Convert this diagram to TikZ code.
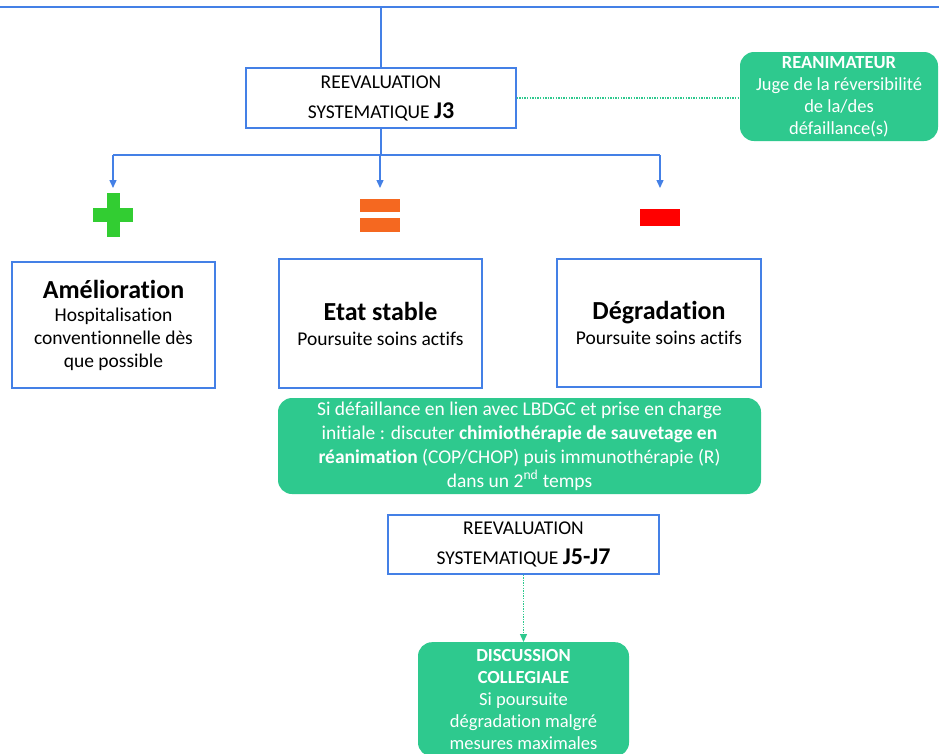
\documentclass[tikz,border=0pt]{standalone}
\usepackage{fontspec}
\setmainfont[Ligatures=NoCommon]{Carlito}
\usetikzlibrary{arrows.meta}
\definecolor{lineblue}{RGB}{68,128,230}
\definecolor{boxgreen}{RGB}{46,201,142}
\definecolor{plusgreen}{RGB}{50,205,50}
\definecolor{eqorange}{RGB}{245,104,32}
\definecolor{minusred}{RGB}{255,0,0}

\begin{document}
\begin{tikzpicture}[x=1pt, y=-1pt, >={Triangle[length=8pt,width=7pt]},
  evalbox/.style={draw=lineblue, line width=1.3pt, fill=white, align=center, inner sep=0pt, font=\fontsize{19.5}{30}\selectfont},
  casebox/.style={draw=lineblue, line width=1.3pt, align=center, inner sep=0pt, font=\fontsize{19.5}{23}\selectfont},
  greenbox/.style={fill=boxgreen, rounded corners=14pt, text=white, align=center, inner sep=0pt},
  link/.style={lineblue, line width=1.4pt},
  dots/.style={boxgreen, line width=1.3pt, dash pattern=on 1.3pt off 1.3pt}]
  \path[use as bounding box, fill=white] (0,0) rectangle (939,753);

  % Reevaluation J3 and reanimateur
  \coordinate (topL) at (0,7);
  \coordinate (topR) at (939,7);
  \node[evalbox, minimum width=270pt, minimum height=60pt] (j3) at (381,98)
    {REEVALUATION\\SYSTEMATIQUE {\bfseries\fontsize{24}{24}\selectfont J3}};
  \node[greenbox, minimum width=198pt, minimum height=89pt, font=\fontsize{18.5}{22}\selectfont] (reanim) at (839,96.5)
    {\textbf{REANIMATEUR}\\Juge de la réversibilité\\de la/des\\défaillance(s)};

  % Signs
  \coordinate (plusSign) at (113,215);
  \coordinate (eqSign) at (380,215);
  \coordinate (minusSign) at (660,217);
  \fill[plusgreen] (106.5,193) rectangle (119.5,237);
  \fill[plusgreen] (93,208) rectangle (133,222);
  \fill[eqorange] (360,199) rectangle (400,212);
  \fill[eqorange] (360,218) rectangle (400,232);
  \fill[minusred] (640,209) rectangle (680,226);

  % Cases
  \node[casebox, minimum width=203pt, minimum height=126pt] (amel) at (113.5,325)
    {{\bfseries\fontsize{26}{30}\selectfont Amélioration}\\Hospitalisation\\conventionnelle dès\\que possible};
  \node[casebox, minimum width=203pt, minimum height=129pt] (stable) at (380.5,323.5)
    {{\bfseries\fontsize{26}{30}\selectfont Etat stable}\\[2pt]Poursuite soins actifs};
  \node[casebox, minimum width=204pt, minimum height=128pt] (degrad) at (659,323)
    {{\bfseries\fontsize{26}{30}\selectfont Dégradation}\\[2pt]Poursuite soins actifs};

  \node[greenbox, minimum width=483pt, minimum height=96pt, font=\fontsize{19.5}{24}\selectfont] (rescue) at (519.5,446)
    {Si défaillance en lien avec LBDGC et prise en charge\\initiale : discuter \textbf{chimiothérapie de sauvetage en}\\\textbf{réanimation} (COP/CHOP) puis immunothérapie (R)\\dans un 2\textsuperscript{nd} temps};

  % Reevaluation J5-J7 and discussion
  \node[evalbox, minimum width=271pt, minimum height=59pt] (j5) at (523.5,544.5)
    {REEVALUATION\\SYSTEMATIQUE {\bfseries\fontsize{24}{24}\selectfont J5-J7}};
  \node[greenbox, anchor=north, minimum width=211pt, inner ysep=7pt, font=\fontsize{18.5}{22}\selectfont] (disc) at (523.5,642)
    {\textbf{DISCUSSION}\\\textbf{COLLEGIALE}\\Si poursuite\\dégradation malgré\\mesures maximales};

  % Links
  \coordinate (fork) at (0,155);
  \coordinate (tipline) at (0,188);
  \draw[link] (topL) -- (topR);
  \draw[link] (j3.north) -- (j3.north |- topL);
  \draw[link] (j3.south) -- (j3.south |- fork);
  \draw[link] (fork -| plusSign) -- (fork -| minusSign);
  \foreach \s in {plusSign,eqSign,minusSign}
    \draw[link,->] (fork -| \s) -- (\s |- tipline);
  \draw[dots] (j3.east) -- (j3.east -| reanim.west);
  \draw[dots,->] (j5.south) -- (disc.north);
\end{tikzpicture}
\end{document}
